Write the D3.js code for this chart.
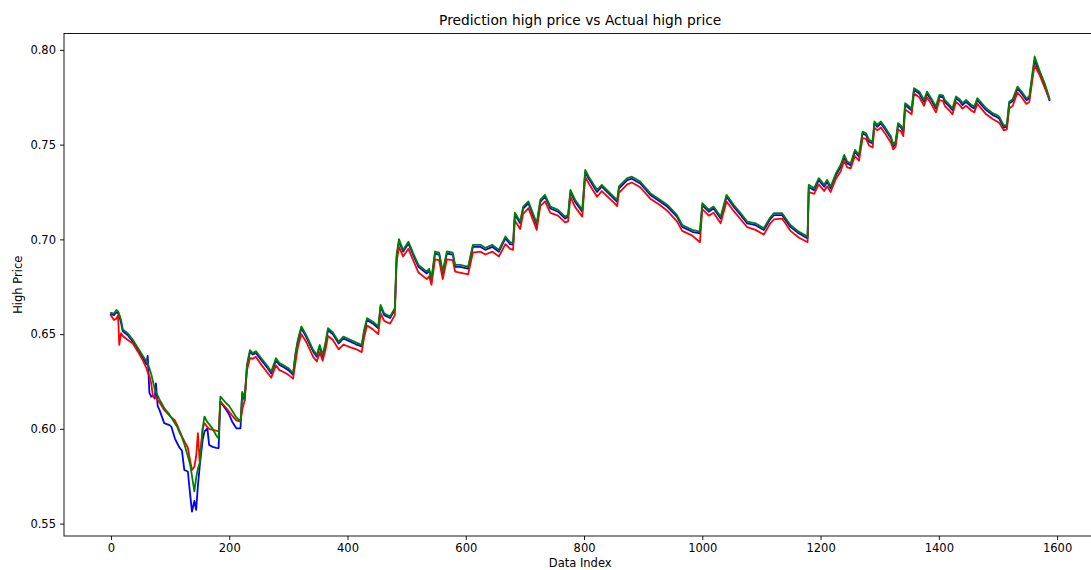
<!DOCTYPE html>
<html>
<head>
<meta charset="utf-8">
<script src="https://cdn.jsdelivr.net/npm/d3@7"></script>
<style>
  html, body { margin: 0; padding: 0; background: #fff; }
  svg { display: block; font-family: "DejaVu Sans", sans-serif; }
</style>
</head>
<body>
<svg id="chart" width="1091" height="570"></svg>
<script>
// ---- data ----
const indices = [0,5,9,12,14,17,20,28,37,45,54,60,62,65,68,71,74,76,79,82,90,99,102,108,112,116,120,124,130,134,137,141,144,147,150,155,158,163,166,172,178,182,185,195,200,205,212,219,222,226,230,235,240,245,255,265,271,279,285,292,300,308,312,316,322,330,342,348,353,358,363,367,375,385,393,405,415,424,428,433,443,452,456,462,472,480,483,487,494,503,511,520,534,538,542,548,555,561,568,578,582,590,604,612,625,633,645,656,667,675,680,683,692,697,706,720,726,734,743,756,768,773,777,785,797,802,808,822,830,850,856,859,873,881,895,912,929,941,957,966,983,996,1000,1011,1019,1031,1041,1053,1065,1076,1090,1104,1114,1121,1135,1149,1163,1178,1180,1189,1197,1206,1211,1217,1226,1234,1240,1245,1251,1258,1265,1271,1277,1282,1288,1291,1296,1302,1310,1319,1323,1327,1331,1336,1340,1343,1350,1354,1358,1367,1375,1380,1387,1395,1401,1407,1410,1418,1423,1429,1435,1440,1446,1455,1460,1465,1472,1480,1491,1497,1502,1510,1515,1519,1525,1533,1540,1548,1553,1559,1562,1570,1579,1587];

const blueValues = [0.6605,0.6600,0.6615,0.6612,0.6595,0.6560,0.6515,0.6495,0.6460,0.6420,0.6375,0.6340,0.6385,0.6190,0.6170,0.6175,0.6160,0.6240,0.6120,0.6100,0.6030,0.6020,0.6012,0.5950,0.5924,0.5900,0.5885,0.5783,0.5775,0.5650,0.5563,0.5620,0.5572,0.5700,0.5801,0.5940,0.5985,0.6003,0.5915,0.5905,0.5900,0.5898,0.6144,0.6100,0.6074,0.6038,0.6003,0.6003,0.6188,0.6150,0.6330,0.6405,0.6392,0.6400,0.6360,0.6320,0.6292,0.6360,0.6337,0.6325,0.6310,0.6285,0.6390,0.6460,0.6530,0.6486,0.6407,0.6380,0.6435,0.6382,0.6450,0.6520,0.6500,0.6450,0.6477,0.6460,0.6445,0.6435,0.6510,0.6575,0.6555,0.6530,0.6645,0.6600,0.6585,0.6628,0.6905,0.6990,0.6935,0.6978,0.6918,0.6855,0.6820,0.6835,0.6785,0.6925,0.6920,0.6820,0.6925,0.6920,0.6855,0.6855,0.6846,0.6960,0.6960,0.6945,0.6960,0.6935,0.7005,0.6975,0.6972,0.7130,0.7085,0.7163,0.7190,0.7075,0.7198,0.7225,0.7163,0.7146,0.7110,0.7120,0.7250,0.7198,0.7146,0.7355,0.7320,0.7250,0.7278,0.7216,0.7198,0.7268,0.7313,0.7320,0.7295,0.7234,0.7198,0.7172,0.7120,0.7066,0.7040,0.7032,0.7180,0.7146,0.7163,0.7110,0.7225,0.7172,0.7128,0.7084,0.7075,0.7049,0.7102,0.7128,0.7128,0.7066,0.7032,0.7005,0.7275,0.7260,0.7313,0.7278,0.7304,0.7269,0.7339,0.7383,0.7436,0.7401,0.7392,0.7462,0.7436,0.7558,0.7550,0.7515,0.7506,0.7612,0.7594,0.7612,0.7577,0.7533,0.7489,0.7510,0.7603,0.7590,0.7568,0.7709,0.7691,0.7680,0.7788,0.7770,0.7726,0.7770,0.7735,0.7691,0.7753,0.7750,0.7726,0.7700,0.7682,0.7744,0.7730,0.7709,0.7726,0.7700,0.7691,0.7735,0.7710,0.7682,0.7656,0.7647,0.7638,0.7590,0.7595,0.7717,0.7730,0.7796,0.7770,0.7735,0.7744,0.7880,0.7945,0.7880,0.7810,0.7735];

const redValues = [0.6598,0.6575,0.6580,0.6600,0.6443,0.6505,0.6490,0.6470,0.6450,0.6410,0.6360,0.6320,0.6300,0.6280,0.6240,0.6170,0.6175,0.6165,0.6150,0.6140,0.6100,0.6070,0.6060,0.6045,0.6020,0.5990,0.5960,0.5935,0.5900,0.5830,0.5783,0.5800,0.5854,0.5977,0.5827,0.6000,0.6030,0.6010,0.6000,0.5995,0.5990,0.5986,0.6144,0.6110,0.6090,0.6070,0.6045,0.6038,0.6100,0.6150,0.6311,0.6373,0.6370,0.6380,0.6335,0.6295,0.6270,0.6335,0.6310,0.6300,0.6285,0.6265,0.6350,0.6430,0.6500,0.6460,0.6380,0.6355,0.6405,0.6360,0.6420,0.6490,0.6470,0.6420,0.6445,0.6430,0.6420,0.6405,0.6480,0.6545,0.6525,0.6500,0.6610,0.6570,0.6555,0.6600,0.6880,0.6960,0.6910,0.6950,0.6890,0.6825,0.6790,0.6805,0.6760,0.6895,0.6890,0.6790,0.6895,0.6890,0.6830,0.6825,0.6815,0.6930,0.6935,0.6920,0.6935,0.6910,0.6975,0.6950,0.6945,0.7100,0.7055,0.7135,0.7165,0.7050,0.7175,0.7200,0.7140,0.7125,0.7090,0.7095,0.7225,0.7170,0.7120,0.7330,0.7295,0.7225,0.7255,0.7195,0.7175,0.7245,0.7290,0.7300,0.7275,0.7215,0.7180,0.7150,0.7095,0.7045,0.7020,0.6985,0.7160,0.7125,0.7140,0.7085,0.7200,0.7150,0.7105,0.7065,0.7050,0.7025,0.7080,0.7105,0.7110,0.7045,0.7010,0.6985,0.7250,0.7240,0.7290,0.7255,0.7280,0.7250,0.7320,0.7360,0.7415,0.7380,0.7375,0.7440,0.7415,0.7535,0.7530,0.7495,0.7485,0.7590,0.7575,0.7590,0.7555,0.7510,0.7475,0.7490,0.7580,0.7570,0.7545,0.7685,0.7670,0.7660,0.7770,0.7750,0.7705,0.7750,0.7715,0.7670,0.7735,0.7730,0.7705,0.7680,0.7660,0.7725,0.7710,0.7690,0.7705,0.7680,0.7670,0.7715,0.7690,0.7660,0.7635,0.7625,0.7615,0.7575,0.7580,0.7690,0.7705,0.7775,0.7750,0.7715,0.7725,0.7860,0.7920,0.7870,0.7800,0.7740];

const greenValues = [0.6612,0.6608,0.6628,0.6620,0.6605,0.6575,0.6525,0.6505,0.6470,0.6430,0.6385,0.6355,0.6345,0.6320,0.6290,0.6250,0.6210,0.6195,0.6175,0.6155,0.6110,0.6075,0.6060,0.6030,0.6010,0.5980,0.5955,0.5920,0.5855,0.5810,0.5750,0.5670,0.5740,0.5790,0.5820,0.6000,0.6065,0.6035,0.6025,0.6000,0.5965,0.5950,0.6170,0.6135,0.6120,0.6095,0.6060,0.6040,0.6195,0.6160,0.6340,0.6415,0.6400,0.6410,0.6370,0.6330,0.6302,0.6373,0.6347,0.6335,0.6320,0.6294,0.6400,0.6470,0.6540,0.6496,0.6417,0.6390,0.6443,0.6390,0.6460,0.6531,0.6510,0.6460,0.6487,0.6470,0.6455,0.6443,0.6520,0.6584,0.6565,0.6540,0.6654,0.6610,0.6593,0.6637,0.6918,0.7001,0.6944,0.6988,0.6927,0.6865,0.6830,0.6845,0.6795,0.6936,0.6930,0.6830,0.6936,0.6930,0.6865,0.6865,0.6856,0.6971,0.6971,0.6955,0.6971,0.6944,0.7015,0.6985,0.6982,0.7141,0.7094,0.7173,0.7200,0.7085,0.7208,0.7235,0.7173,0.7156,0.7120,0.7130,0.7261,0.7208,0.7156,0.7367,0.7331,0.7261,0.7288,0.7226,0.7208,0.7279,0.7323,0.7331,0.7305,0.7244,0.7208,0.7182,0.7129,0.7076,0.7050,0.7041,0.7191,0.7156,0.7173,0.7120,0.7235,0.7182,0.7138,0.7094,0.7085,0.7059,0.7112,0.7138,0.7138,0.7076,0.7041,0.7015,0.7288,0.7270,0.7323,0.7288,0.7314,0.7279,0.7349,0.7393,0.7446,0.7411,0.7402,0.7472,0.7446,0.7569,0.7560,0.7525,0.7516,0.7622,0.7604,0.7622,0.7587,0.7543,0.7499,0.7520,0.7613,0.7600,0.7578,0.7719,0.7701,0.7690,0.7798,0.7780,0.7736,0.7780,0.7745,0.7701,0.7763,0.7760,0.7736,0.7710,0.7692,0.7754,0.7740,0.7719,0.7736,0.7710,0.7701,0.7745,0.7720,0.7692,0.7666,0.7657,0.7648,0.7600,0.7605,0.7727,0.7740,0.7806,0.7780,0.7745,0.7754,0.7894,0.7965,0.7894,0.7824,0.7745];

const xTicks = [0, 200, 400, 600, 800, 1000, 1200, 1400, 1600];
const yTicks = [0.55, 0.60, 0.65, 0.70, 0.75, 0.80];
const titleText = "Prediction high price vs Actual high price";
const xLabelText = "Data Index";
const yLabelText = "High Price";

const seriesList = [
  { name: "blue", values: blueValues, color: "#0000ff" },
  { name: "red", values: redValues, color: "#ff0000" },
  { name: "green", values: greenValues, color: "#008000" }
];

// ---- layout ----
const margin = { left: 64, top: 33.5, right: 1096.4, bottom: 536 };
const svg = d3.select("#chart");

const x = d3.scaleLinear().domain([-79.45, 1666.45]).range([margin.left, margin.right]);
const y = d3.scaleLinear().domain([0.54345, 0.80865]).range([margin.bottom, margin.top]);

svg.append("defs").append("clipPath").attr("id", "plotclip")
  .append("rect")
  .attr("x", margin.left).attr("y", margin.top)
  .attr("width", margin.right - margin.left).attr("height", margin.bottom - margin.top);

const line = d3.line()
  .x((d, i) => x(indices[i]))
  .y(d => y(d));

const gLines = svg.append("g").attr("clip-path", "url(#plotclip)");
seriesList.forEach(s => {
  gLines.append("path")
    .datum(s.values)
    .attr("fill", "none")
    .attr("stroke", s.color)
    .attr("stroke-width", 1.8)
    .attr("stroke-linejoin", "round")
    .attr("stroke-linecap", "square")
    .attr("d", line);
});

// axes
const xAxis = d3.axisBottom(x).tickValues(xTicks).tickSize(4).tickPadding(4).tickFormat(d3.format("d"));
const yAxis = d3.axisLeft(y).tickValues(yTicks).tickSize(4).tickPadding(4).tickFormat(d3.format(".2f"));

const gx = svg.append("g").attr("transform", `translate(0,${margin.bottom})`).call(xAxis);
const gy = svg.append("g").attr("transform", `translate(${margin.left},0)`).call(yAxis);
[gx, gy].forEach(g => {
  g.select(".domain").remove();
  g.selectAll(".tick line").attr("stroke", "#000").attr("stroke-width", 0.9);
  g.selectAll(".tick text").attr("fill", "#000").attr("font-size", 11.5).attr("font-family", "DejaVu Sans, sans-serif");
});

// spines
svg.append("rect")
  .attr("x", margin.left).attr("y", margin.top)
  .attr("width", margin.right - margin.left).attr("height", margin.bottom - margin.top)
  .attr("fill", "none").attr("stroke", "#000").attr("stroke-width", 0.9);

// labels
svg.append("text")
  .attr("x", (margin.left + margin.right) / 2).attr("y", 25)
  .attr("text-anchor", "middle").attr("font-size", 13.8).attr("fill", "#000")
  .text(titleText);

svg.append("text")
  .attr("x", (margin.left + margin.right) / 2).attr("y", 566.5)
  .attr("text-anchor", "middle").attr("font-size", 11.5).attr("fill", "#000")
  .text(xLabelText);

svg.append("text")
  .attr("transform", `translate(22,${(margin.top + margin.bottom) / 2}) rotate(-90)`)
  .attr("text-anchor", "middle").attr("font-size", 11.5).attr("fill", "#000")
  .text(yLabelText);
</script>
</body>
</html>
